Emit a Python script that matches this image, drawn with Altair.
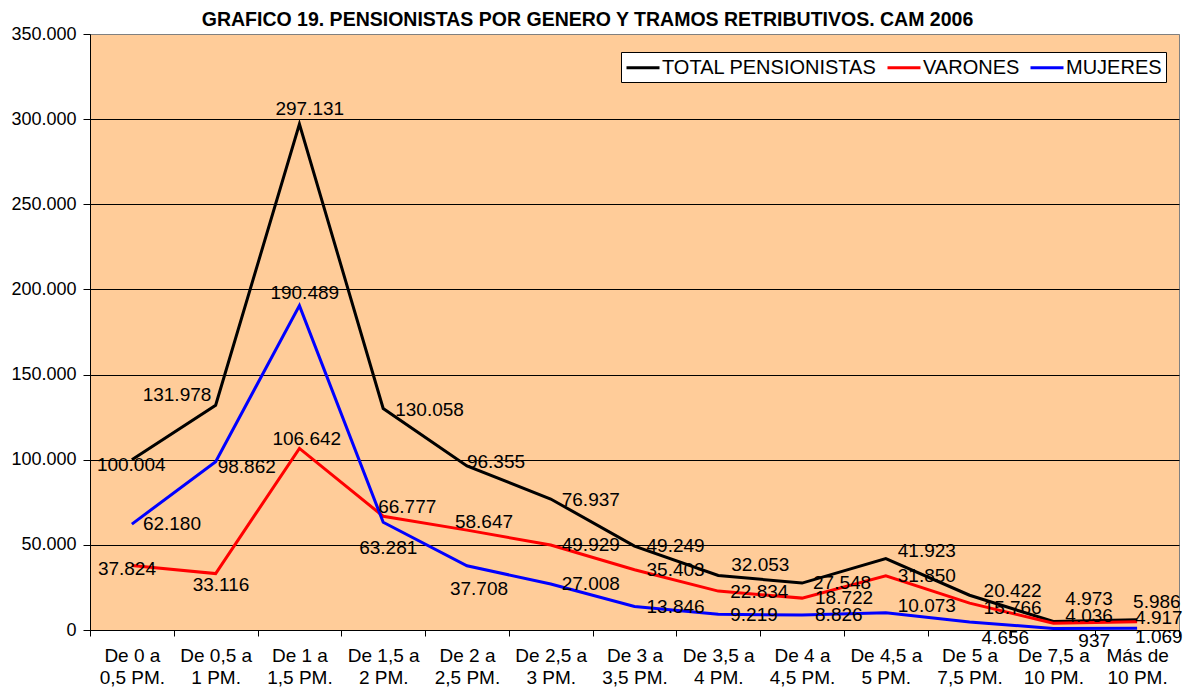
import altair as alt
import pandas as pd

CATEGORIES = [
    "De 0 a|0,5 PM.", "De 0,5 a|1 PM.", "De 1 a|1,5 PM.", "De 1,5 a|2 PM.",
    "De 2 a|2,5 PM.", "De 2,5 a|3 PM.", "De 3 a|3,5 PM.", "De 3,5 a|4 PM.",
    "De 4 a|4,5 PM.", "De 4,5 a|5 PM.", "De 5 a|7,5 PM.", "De 7,5 a|10 PM.",
    "Más de|10 PM.",
]
SERIES = ["TOTAL PENSIONISTAS", "VARONES", "MUJERES"]
TOTAL = [100004, 131978, 297131, 130058, 96355, 76937, 49249, 32053, 27548, 41923, 20422, 4973, 5986]
VARONES = [37824, 33116, 106642, 66777, 58647, 49929, 35403, 22834, 18722, 31850, 15766, 4036, 4917]
MUJERES = [62180, 98862, 190489, 63281, 37708, 27008, 13846, 9219, 8826, 10073, 4656, 937, 1069]
Y_TICKS = [0, 50000, 100000, 150000, 200000, 250000, 300000, 350000]
COLORS = ["#000000", "#FF0000", "#0000FF"]

# data-label nudges (pixels) relative to each point, as placed in the original
TOTAL_DX = [-35, -73, -24, 12, 0, 11, 12, 13, 11, 12, 14, 12, -4]
TOTAL_DY = [5, -10, -15, 1, -4, 1, 0, -10, 0, -8, -4, -23, -18]
VARONES_DX = [-34, -23, -27, -5, -12, 11, 12, 12, 13, 12, 14, 12, -2]
VARONES_DY = [3, 11, -9, -9, -8, 0, 0, 1, 0, 0, 5, -7, -4]
MUJERES_DX = [11, 2, -29, -24, -17, 11, 12, 12, 13, 12, 12, 25, -2]
MUJERES_DY = [0, 5, -13, 26, 23, 0, 1, 1, 0, -7, 16, 13, 9]

rows = []
for serie, vals, dxs, dys in [
    (SERIES[0], TOTAL, TOTAL_DX, TOTAL_DY),
    (SERIES[1], VARONES, VARONES_DX, VARONES_DY),
    (SERIES[2], MUJERES, MUJERES_DX, MUJERES_DY),
]:
    for cat, v, dx, dy in zip(CATEGORIES, vals, dxs, dys):
        rows.append({"cat": cat, "serie": serie, "value": v, "dx": dx, "dy": dy})
df = pd.DataFrame(rows)

FONT = "Liberation Sans"

x_enc = alt.X(
    "cat:N",
    sort=CATEGORIES,
    bandPosition=0.5,
    scale=alt.Scale(type="band", paddingInner=0, paddingOuter=0),
    axis=alt.Axis(
        title=None,
        labelExpr="split(datum.label, '|')",
        labelAngle=0,
        tickBand="extent",
        tickSize=6,
        tickColor="#000000",
        domainColor="#000000",
        labelFontSize=19,
        labelFont=FONT,
        labelColor="#000000",
        labelLineHeight=22,
        labelPadding=10,
        grid=False,
    ),
)
y_enc = alt.Y(
    "value:Q",
    scale=alt.Scale(domain=[0, 350000], nice=False),
    axis=alt.Axis(
        title=None,
        values=Y_TICKS,
        labelExpr="replace(format(datum.value, ',d'), ',', '.')",
        grid=True,
        gridColor={"condition": {"test": "datum.value >= 350000", "value": "#808080"}, "value": "#000000"},
        gridWidth=1,
        tickSize=7,
        tickColor="#000000",
        domainColor="#000000",
        labelFontSize=18,
        labelFont=FONT,
        labelColor="#000000",
        labelPadding=7,
    ),
)

lines = alt.Chart(df).mark_line(strokeWidth=3).encode(
    x=x_enc,
    y=y_enc,
    color=alt.Color(
        "serie:N",
        sort=SERIES,
        scale=alt.Scale(domain=SERIES, range=COLORS),
        legend=alt.Legend(
            title=None,
            orient="none",
            legendX=531,
            legendY=18,
            direction="horizontal",
            fillColor="#FFFFFF",
            strokeColor="#000000",
            padding=4,
            symbolType="M-1,0H2.3",
            symbolStrokeWidth=3,
            symbolSize=400,
            labelFontSize=20,
            labelFont=FONT,
            labelColor="#000000",
            labelOffset=14,
            labelLimit=0,
            columnPadding=4,
        ),
    ),
)

labels = alt.Chart(df).transform_calculate(
    label="replace(format(datum.value, ',d'), ',', '.')"
).mark_text(
    align="left",
    baseline="middle",
    fontSize=19,
    font=FONT,
    color="#000000",
    dx=alt.ExprRef(expr="datum.dx"),
    dy=alt.ExprRef(expr="datum.dy"),
).encode(
    x=x_enc,
    y=y_enc,
    text="label:N",
)

chart = alt.layer(lines, labels).properties(
    width=1089,
    height=596,
    autosize=alt.AutoSizeParams(type="none"),
    padding={"left": 82, "top": 26, "right": 4, "bottom": 58},
    background="#FFFFFF",
    title=alt.TitleParams(
        "GRAFICO 19. PENSIONISTAS POR GENERO Y TRAMOS RETRIBUTIVOS. CAM 2006",
        font=FONT,
        fontSize=19.5,
        fontWeight="bold",
        color="#000000",
        anchor="middle",
        dx=-47,
        dy=14,
        offset=9,
    ),
).configure_view(
    fill="#FFCC99",
    stroke="#808080",
    strokeWidth=1,
)

chart.save("out.html", embed_options={"renderer": "svg", "actions": False})
